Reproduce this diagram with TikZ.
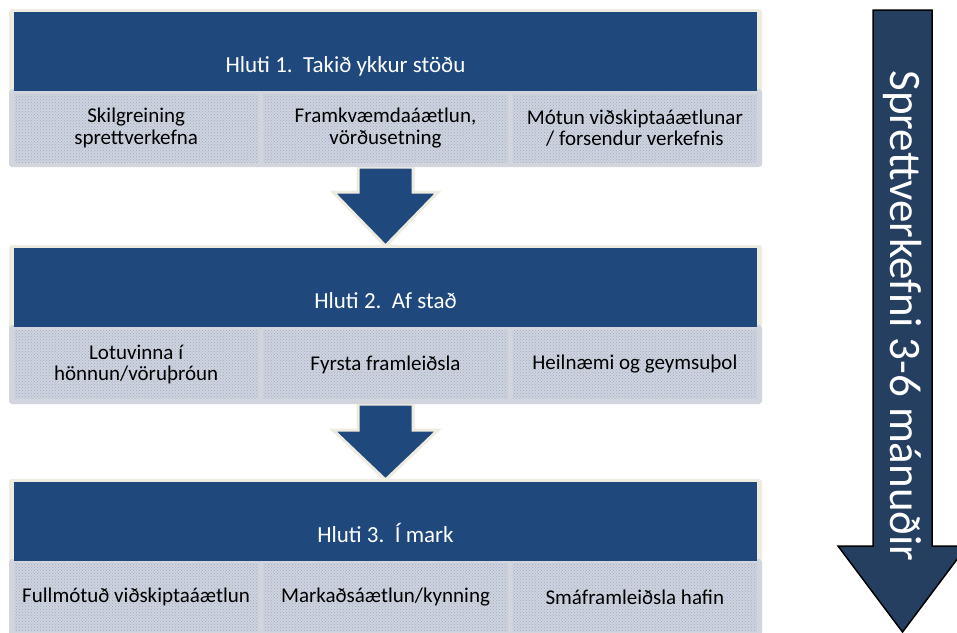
\documentclass[tikz,border=0pt]{standalone}
\usepackage{fontspec}
\setmainfont{Carlito}
\usetikzlibrary{patterns}

\definecolor{hdrblue}{RGB}{31,73,125}
\definecolor{tanbg}{RGB}{238,236,225}
\definecolor{rowframe}{RGB}{210,213,221}
\definecolor{cellbg}{RGB}{206,211,223}
\definecolor{celldot}{RGB}{160,172,196}
\definecolor{sidenavy}{RGB}{36,63,96}

\begin{document}
\begin{tikzpicture}[x=1pt, y=-1pt,
  hdrbox/.style={fill=hdrblue, text=white, minimum width=743, minimum height=79, inner sep=0pt,
    text height=47pt, text depth=6pt, font=\fontsize{23}{28}\selectfont},
  cellbox/.style={minimum width=244.3, minimum height=68, inner sep=0pt, align=center,
    preaction={fill=cellbg}, pattern=crosshatch dots, pattern color=celldot,
    font=\fontsize{21}{21.5}\selectfont},
  tanframe/.style={fill=tanbg, rounded corners=3pt},
  grayframe/.style={fill=rowframe, rounded corners=3pt},
  blockarrow/.style={fill=hdrblue, draw=tanbg, line width=3pt, line join=miter}]
\useasboundingbox[fill=white] (0,0) rectangle (957,632);

\filldraw[blockarrow] (358,167) -- (413,167) -- (413,192) -- (438,192) -- (385.5,246) -- (333,192) -- (358,192) -- cycle;
\filldraw[blockarrow] (358,404) -- (413,404) -- (413,430) -- (438,430) -- (385.5,480) -- (333,430) -- (358,430) -- cycle;

% Hluti 1
\fill[tanframe] (9,9) rectangle (762,91);
\fill[grayframe] (9,89) rectangle (762,167);
\node[hdrbox] (hdr1) at (385.5,51.5) {Hluti 1.\ \ Takið ykkur stöðu\hspace*{80pt}};
\node[cellbox] (c11) at (136.15,128) {Skilgreining\\ sprettverkefna};
\node[cellbox] (c12) at (385.5,128) {Framkvæmdaáætlun,\\ vörðusetning};
\node[cellbox] (c13) at (634.85,128) {Mótun viðskiptaáætlunar\\ / forsendur verkefnis};

% Hluti 2
\fill[tanframe] (9,245) rectangle (762,327);
\fill[grayframe] (9,325) rectangle (762,404);
\node[hdrbox] (hdr2) at (385.5,287.5) {Hluti 2.\ \ Af stað};
\node[cellbox] (c21) at (136.15,364.5) {Lotuvinna í\\ hönnun/vöruþróun};
\node[cellbox] (c22) at (385.5,364.5) {Fyrsta framleiðsla};
\node[cellbox] (c23) at (634.85,364.5) {Heilnæmi og geymsuþol};

% Hluti 3
\fill[tanframe] (9,479) rectangle (762,561);
\fill[grayframe] (9,559) rectangle (762,636);
\node[hdrbox] (hdr3) at (385.5,521.5) {Hluti 3.\ \ Í mark};
\node[cellbox] (c31) at (136.15,597) {Fullmótuð viðskiptaáætlun};
\node[cellbox] (c32) at (385.5,597) {Markaðsáætlun/kynning};
\node[cellbox] (c33) at (634.85,597) {Smáframleiðsla hafin};

\filldraw[fill=sidenavy, draw=black, line width=1.5pt, line join=miter] (873,10) -- (932,10) -- (932,546) -- (967,546) -- (902.5,632) -- (838,546) -- (873,546) -- cycle;
\node[rotate=-90, text=white, font=\fontsize{45}{54}\selectfont] (span) at (902.5,316) {Sprettverkefni 3-6 mánuðir};
\end{tikzpicture}
\end{document}
